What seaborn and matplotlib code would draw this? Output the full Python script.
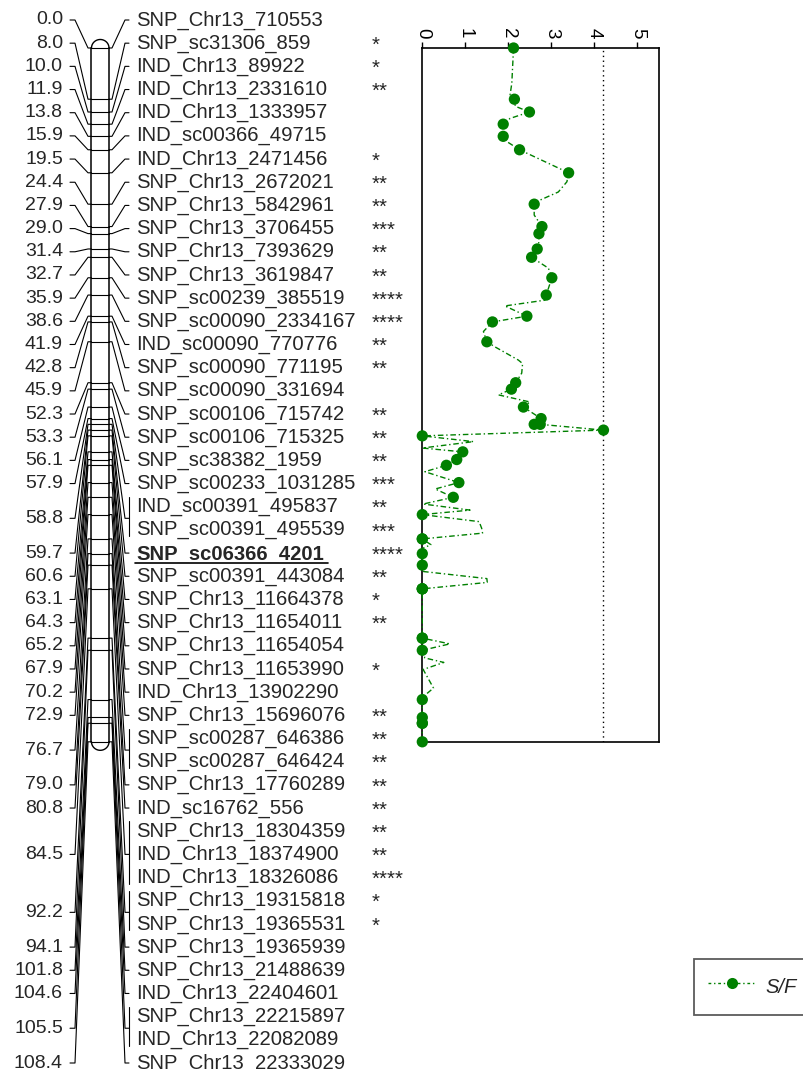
import numpy as np
import matplotlib
matplotlib.use("Agg")
import matplotlib.pyplot as plt
import seaborn as sns
from matplotlib.lines import Line2D

# ---------------- data ----------------
marker_names = [
    "SNP_Chr13_710553", "SNP_sc31306_859", "IND_Chr13_89922", "IND_Chr13_2331610",
    "IND_Chr13_1333957", "IND_sc00366_49715", "IND_Chr13_2471456", "SNP_Chr13_2672021",
    "SNP_Chr13_5842961", "SNP_Chr13_3706455", "SNP_Chr13_7393629", "SNP_Chr13_3619847",
    "SNP_sc00239_385519", "SNP_sc00090_2334167", "IND_sc00090_770776", "SNP_sc00090_771195",
    "SNP_sc00090_331694", "SNP_sc00106_715742", "SNP_sc00106_715325", "SNP_sc38382_1959",
    "SNP_sc00233_1031285", "IND_sc00391_495837", "SNP_sc00391_495539", "SNP_sc06366_4201",
    "SNP_sc00391_443084", "SNP_Chr13_11664378", "SNP_Chr13_11654011", "SNP_Chr13_11654054",
    "SNP_Chr13_11653990", "IND_Chr13_13902290", "SNP_Chr13_15696076", "SNP_sc00287_646386",
    "SNP_sc00287_646424", "SNP_Chr13_17760289", "IND_sc16762_556", "SNP_Chr13_18304359",
    "IND_Chr13_18374900", "IND_Chr13_18326086", "SNP_Chr13_19315818", "SNP_Chr13_19365531",
    "SNP_Chr13_19365939", "SNP_Chr13_21488639", "IND_Chr13_22404601", "SNP_Chr13_22215897",
    "IND_Chr13_22082089", "SNP_Chr13_22333029",
]
marker_cm = [
    0.0, 8.0, 10.0, 11.9, 13.8, 15.9, 19.5, 24.4, 27.9, 29.0, 31.4, 32.7, 35.9, 38.6,
    41.9, 42.8, 45.9, 52.3, 53.3, 56.1, 57.9, 58.8, 58.8, 59.7, 60.6, 63.1, 64.3, 65.2,
    67.9, 70.2, 72.9, 76.7, 76.7, 79.0, 80.8, 84.5, 84.5, 84.5, 92.2, 92.2, 94.1, 101.8,
    104.6, 105.5, 105.5, 108.4,
]
marker_stars = [
    "", "*", "*", "**", "", "", "*", "**", "**", "***", "**", "**", "****", "****",
    "**", "**", "", "**", "**", "**", "***", "**", "***", "****", "**", "*", "**", "",
    "*", "", "**", "**", "**", "**", "**", "**", "**", "****", "*", "*", "", "", "", "",
    "", "",
]
marker_lod = [
    2.12, 2.14, 2.49, 1.88, 1.88, 2.26, 3.40, 2.60, 2.78, 2.71, 2.67, 2.54, 3.01, 2.88,
    2.43, 1.63, 1.50, 2.17, 2.07, 2.35, 2.76, 2.74, 2.60, 4.21, 0.0, 0.94, 0.80, 0.56,
    0.85, 0.72, 0.0, 0.0, 0.0, 0.0, 0.0, 0.0, 0.0, 0.0, 0.0, 0.0, 0.0, 0.0, 0.0, 0.0,
    0.0, 0.0,
]
bold_marker = "SNP_sc06366_4201"

profile_cm = [
    0.0, 5.5, 7.3, 8.0, 9.1, 10.0, 11.0, 11.9, 13.8, 14.6, 15.9, 19.5, 20.9, 22.5, 23.75,
    24.4, 26.1, 27.9, 29.0, 30.3, 31.4, 32.7, 34.4, 35.9, 38.6, 39.4, 40.3, 41.9, 42.8,
    44.3, 45.9, 46.7, 48.75, 49.3, 50.8, 52.3, 53.3, 54.2, 55.3, 56.1, 57.9, 58.8, 58.8,
    59.7, 60.6, 61.5, 62.5, 63.1, 64.3, 65.2, 66.2, 67.9, 68.9, 70.2, 71.25, 72.2, 72.9,
    74.0, 75.05, 75.8, 76.7, 77.6, 78.2, 79.0, 80.8, 81.8, 82.9, 83.5, 84.5, 92.2, 93.1,
    94.1, 95.3, 96.0, 97.1, 100.0, 101.3, 101.8, 104.6, 105.5, 108.4,
]
profile_lod = [
    2.12, 2.08, 2.04, 2.14, 2.16, 2.49, 2.04, 1.88, 1.88, 1.96, 2.26, 3.40, 3.36, 3.16, 2.74,
    2.60, 2.60, 2.78, 2.71, 2.71, 2.67, 2.54, 2.93, 3.01, 2.88, 2.85, 1.92, 2.43, 1.63,
    1.42, 1.50, 1.69, 2.23, 2.33, 2.31, 2.17, 2.07, 1.77, 2.50, 2.35, 2.76, 2.60, 2.74,
    4.21, 0.0, 1.19, 0.0, 0.94, 0.80, 0.56, 0.06, 0.85, 0.30, 0.72, 0.02, 1.11, 0.0,
    1.32, 1.38, 1.40, 0.0, 0.20, 0.0, 0.0, 0.0, 0.03, 1.50, 1.51, 0.0, 0.0, 0.64,
    0.0, 0.06, 0.50, 0.02, 0.26, 0.03, 0.0, 0.0, 0.0, 0.0,
]
lod_threshold = 4.21
lod_ticks = [0, 1, 2, 3, 4, 5]
legend_label = "S/F"

# ---------------- style ----------------
sns.set_style("white")
plt.rcParams["font.family"] = ["Liberation Sans", "DejaVu Sans"]
GREEN = "#008000"

W, H = 804, 1071
fig = plt.figure(figsize=(W / 100, H / 100), dpi=100)

CHR_TOP, CHR_BOT = 48.0, 741.8
cm_max = max(marker_cm)
scale = (CHR_BOT - CHR_TOP) / cm_max


def px2cm(p):
    return (np.asarray(p, dtype=float) - CHR_TOP) / scale


ax_map = fig.add_axes([0, 0, 1, 1])
ax_map.set_xlim(0, W)
ax_map.set_ylim(px2cm(H), px2cm(0))
ax_map.axis("off")

n = len(marker_names)
row_px = np.linspace(20, 1063, n)
row_cm = px2cm(row_px)

# groups of markers sharing one position
groups = []
for i, c in enumerate(marker_cm):
    if groups and groups[-1][0] == c:
        groups[-1][1].append(i)
    else:
        groups.append((c, [i]))

lw_thin = 0.8
# chromosome
x0, x1 = 91.5, 109.0
xc, wc = (x0 + x1) / 2, (x1 - x0)
ax_map.plot([x0, x0], [0, cm_max], color="black", lw=1.1)
ax_map.plot([x1, x1], [0, cm_max], color="black", lw=1.1)
t = np.linspace(0, np.pi, 60)
cap_h = 8.5 / scale
ax_map.plot(xc - wc / 2 * np.cos(t), 0 - cap_h * np.sin(t), color="black", lw=1.0)
ax_map.plot(xc - wc / 2 * np.cos(t), cm_max + cap_h * np.sin(t), color="black", lw=1.0)
for c, idx in groups:
    ax_map.plot([x0, x1], [c, c], color="black", lw=lw_thin)

fs_pos, fs_name = 14, 14.6
for c, idx in groups:
    ly = float(np.mean(row_cm[idx]))
    # left side
    ax_map.text(63, ly, f"{c:.1f}", ha="right", va="center", fontsize=fs_pos)
    ax_map.plot([70, 75, 88, x0], [ly, ly, c, c], color="black", lw=lw_thin)
    # right side
    ax_map.plot([x1, 112, 125, 129], [c, c, ly, ly], color="black", lw=lw_thin)
    if len(idx) > 1:
        ax_map.plot([129, 129], [row_cm[idx[0]] - 10 / scale, row_cm[idx[-1]] + 6 / scale],
                    color="black", lw=lw_thin)

for i, name in enumerate(marker_names):
    bold = name == bold_marker
    ax_map.text(136, row_cm[i], name, ha="left", va="center", fontsize=fs_name,
                fontweight="bold" if bold else "normal")
    if bold:
        ax_map.plot([135, 328], [row_cm[i] + 10 / scale] * 2, color="black", lw=1.2)
    if marker_stars[i]:
        ax_map.text(372, row_cm[i] + 2 / scale, marker_stars[i], ha="left", va="center",
                    fontsize=fs_name)

# ---------------- LOD profile ----------------
ax = fig.add_axes([422.3 / W, 1 - CHR_BOT / H, (659 - 422.3) / W, (CHR_BOT - CHR_TOP) / H])
dash = (0, (4, 2, 1, 2))
sns.lineplot(x=profile_lod, y=profile_cm, sort=False, estimator=None, ax=ax,
             color=GREEN, lw=1.0, linestyle=dash, clip_on=False, zorder=3)
sns.scatterplot(x=marker_lod, y=marker_cm, ax=ax, color=GREEN, s=66,
                edgecolor="none", clip_on=False, zorder=5)
ax.axvline(lod_threshold, color="black", ls=(0, (1, 2.5)), lw=1.0)
ax.set_xlim(0, 5.5)
ax.set_ylim(cm_max, 0)
ax.xaxis.tick_top()
ax.set_xticks(lod_ticks)
ax.set_xticklabels([str(v) for v in lod_ticks], rotation=-90)
ax.tick_params(axis="x", direction="out", length=4, width=1, pad=3, labelsize=13.5,
               top=True, bottom=False, colors="black")
ax.set_yticks([])
ax.set_xlabel("")
ax.set_ylabel("")
for sp in ax.spines.values():
    sp.set_color("black")
    sp.set_linewidth(1.2)

handle = Line2D([0], [0], color=GREEN, lw=1.0, linestyle=(0, (2, 2, 1, 2)),
                marker="o", markersize=8, markeredgecolor="none")
leg = ax.legend(handles=[handle], labels=[legend_label], loc="center left",
                bbox_to_anchor=(694 / W, 1 - 987 / H), bbox_transform=fig.transFigure,
                frameon=True, fancybox=False, edgecolor="#333333", borderpad=0.7,
                handlelength=2.4, handleheight=1.8, handletextpad=0.45, borderaxespad=0,
                prop={"style": "italic", "size": 14.5})
leg.get_frame().set_linewidth(1.3)

fig.savefig("out.png", dpi=100)
